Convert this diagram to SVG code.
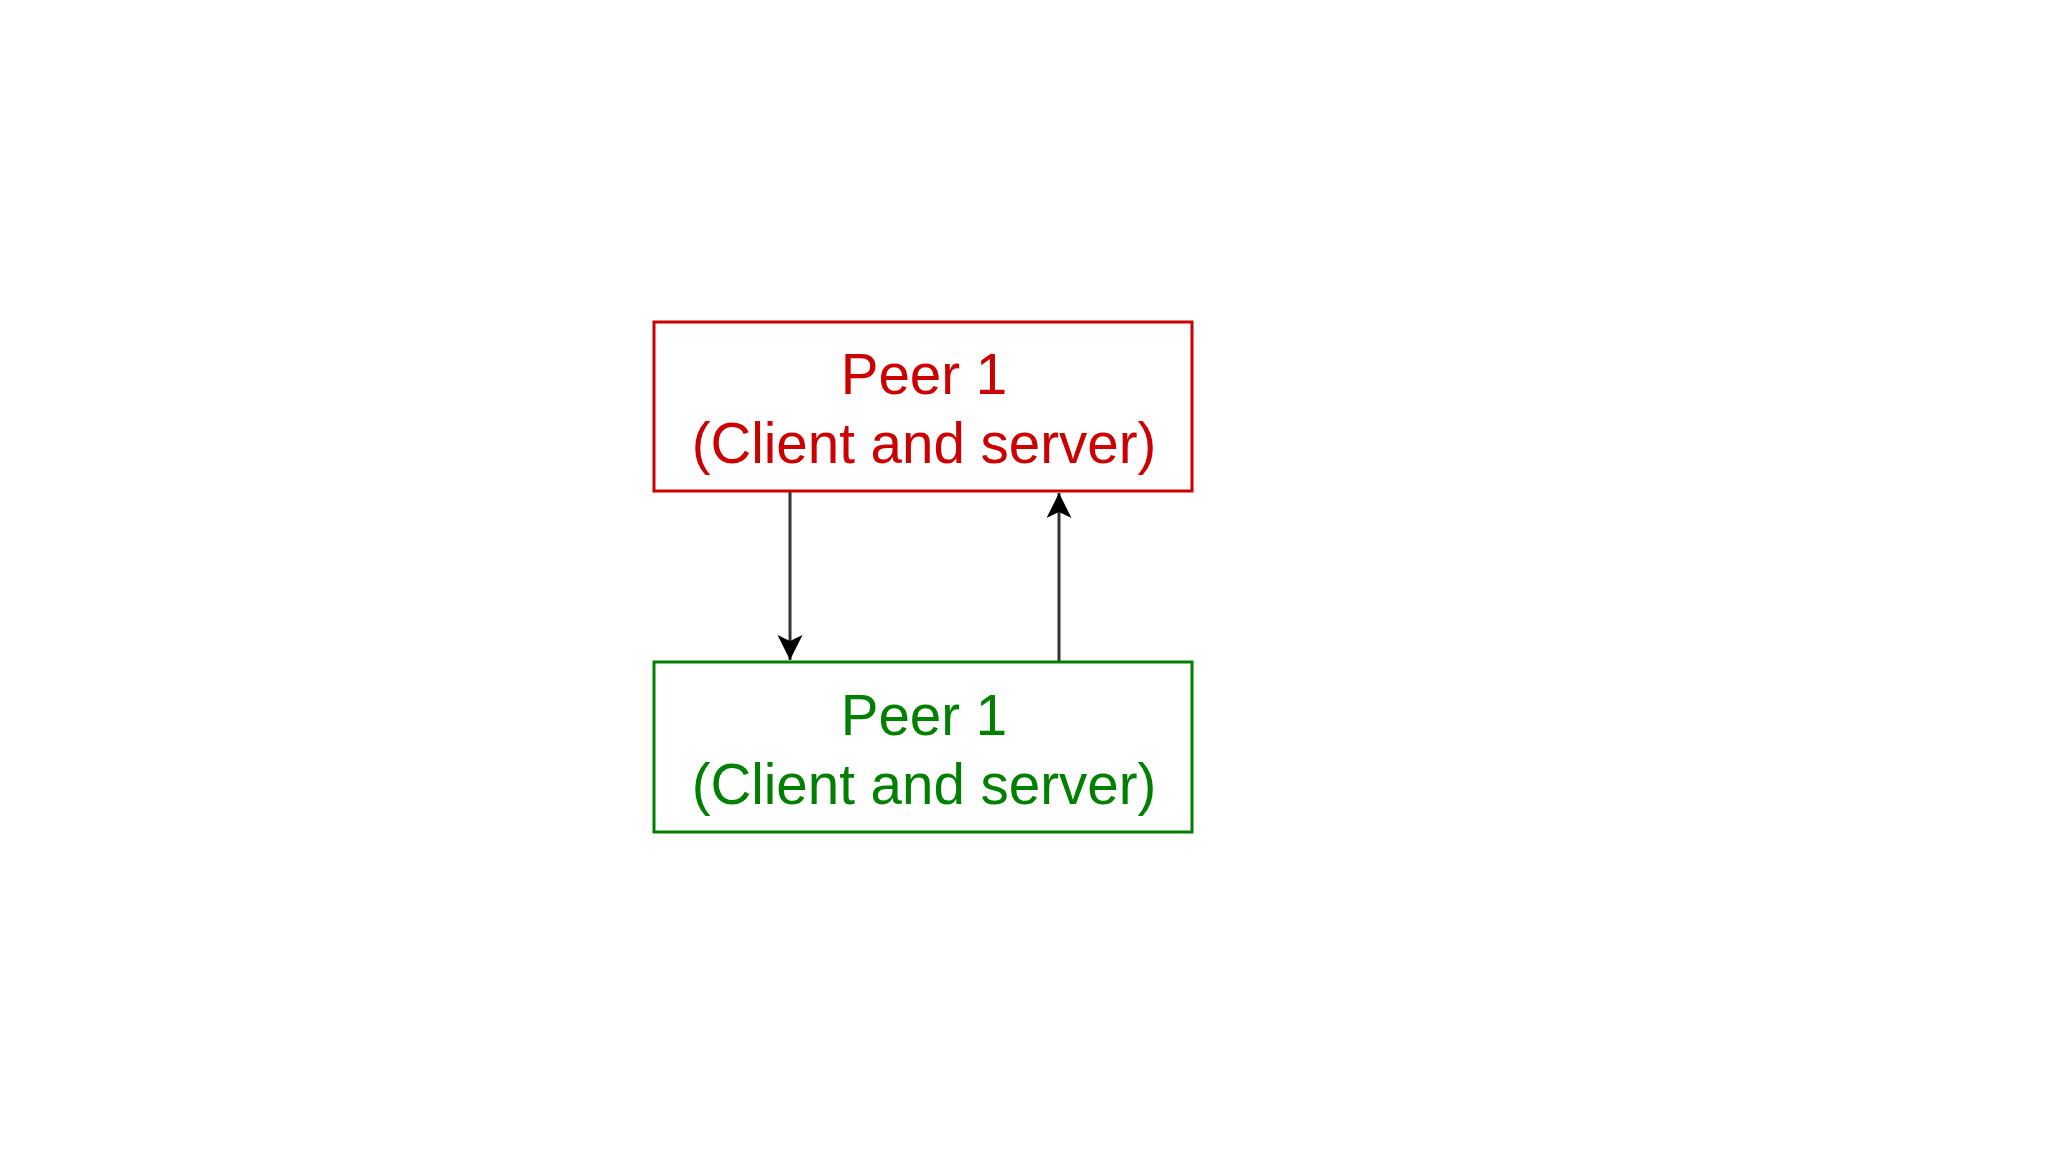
<svg xmlns="http://www.w3.org/2000/svg" width="2048" height="1152" viewBox="0 0 2048 1152">
<style>
.box{fill:#ffffff;stroke-width:3}
.lbl{font-family:"Liberation Sans",Arial,sans-serif;font-size:56.5px;text-anchor:middle}
.edge{stroke:#333333;stroke-width:3;fill:none}
</style>
<defs>
<marker id="ah" markerUnits="userSpaceOnUse" markerWidth="30" markerHeight="30" viewBox="0 0 30 30" refX="25" refY="12.5" orient="auto">
<path d="M0,0 L25,12.5 L0,25 L6,12.5 Z" fill="#000000"/>
</marker>
</defs>
<rect width="2048" height="1152" fill="#ffffff"/>
<g id="connectors">
<line class="edge" x1="790" y1="492" x2="790" y2="660" marker-end="url(#ah)"/>
<line class="edge" x1="1059" y1="662" x2="1059" y2="493" marker-end="url(#ah)"/>
</g>
<g id="peer-top">
<rect class="box" x="654" y="322" width="538" height="169" stroke="#cc0000"/>
<text class="lbl" fill="#cc0000" x="924" y="394">Peer 1</text>
<text class="lbl" fill="#cc0000" x="924" y="463">(Client and server)</text>
</g>
<g id="peer-bottom">
<rect class="box" x="654" y="662" width="538" height="170" stroke="#008000"/>
<text class="lbl" fill="#008000" x="924" y="735">Peer 1</text>
<text class="lbl" fill="#008000" x="924" y="804">(Client and server)</text>
</g>
</svg>
